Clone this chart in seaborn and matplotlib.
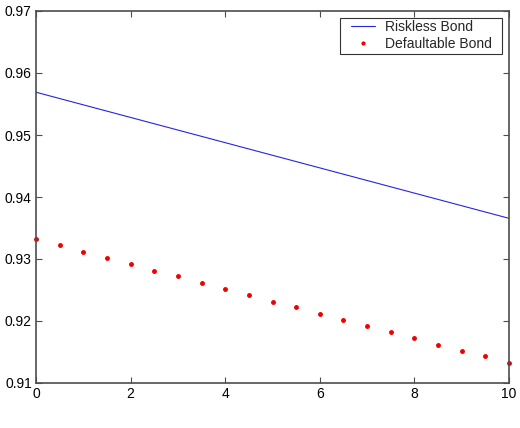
import matplotlib
matplotlib.use("Agg")
import matplotlib.pyplot as plt
from matplotlib.lines import Line2D
from matplotlib.legend_handler import HandlerLine2D
import seaborn as sns
import numpy as np
import pandas as pd

# Data
riskless_x = [0, 10]
riskless_y = [0.9569, 0.93656]

default_x = [0, 0.5, 1, 1.5, 2, 2.5, 3, 3.5, 4, 4.5, 5, 5.5, 6, 6.5, 7, 7.5, 8, 8.5, 9, 9.5, 10]
default_y = [0.93323, 0.93226, 0.93118, 0.93016, 0.92914, 0.92811, 0.92726, 0.92618,
             0.92516, 0.92414, 0.92311, 0.92226, 0.92118, 0.92021, 0.91914, 0.91823,
             0.91721, 0.91618, 0.91516, 0.91431, 0.91327]

x_ticks = [0, 2, 4, 6, 8, 10]
y_ticks = [0.91, 0.92, 0.93, 0.94, 0.95, 0.96, 0.97]
y_tick_labels = ["0.91", "0.92", "0.93", "0.94", "0.95", "0.96", "0.97"]


class ShiftedHandler(HandlerLine2D):
    """Line handle with extra left inset inside the legend box."""
    def get_xdata(self, legend, xdescent, ydescent, width, height, fontsize):
        off = 6.0
        x0 = -xdescent + off
        x1 = -xdescent + width
        return np.array([x0, x1]), np.array([0.5 * (x0 + x1)])


sns.set_theme(style="white")
plt.rcParams['font.family'] = ['Liberation Sans', 'DejaVu Sans']

fig = plt.figure(figsize=(5.2, 4.28), dpi=100)
ax = fig.add_axes([36/520, 45/428, (509-36)/520, (383-11)/428])

df_r = pd.DataFrame({"x": riskless_x, "y": riskless_y})
df_d = pd.DataFrame({"x": default_x, "y": default_y})

sns.lineplot(data=df_r, x="x", y="y", ax=ax, color="#2525e0", linewidth=0.8,
             label="Riskless Bond")
ax.plot(df_d["x"], df_d["y"], linestyle="none", marker=".", markersize=5,
        color="#ee0000", label="Defaultable Bond", clip_on=False)

ax.set_xlim(0, 10)
ax.set_ylim(0.91, 0.97)
ax.set_xticks(x_ticks)
ax.set_xticklabels([str(t) for t in x_ticks])
ax.set_yticks(y_ticks)
ax.set_yticklabels(y_tick_labels)
ax.set_xlabel("")
ax.set_ylabel("")

for s in ax.spines.values():
    s.set_visible(True)
    s.set_color("#4d4d4d")
    s.set_linewidth(1.2)

ax.tick_params(axis="both", which="both", direction="in", length=4, width=0.8,
               color="#4d4d4d", labelsize=10, labelcolor="black",
               top=True, right=True, bottom=True, left=True, pad=3)

handles, labels = ax.get_legend_handles_labels()
labels = [lab + "  " for lab in labels]
leg = ax.legend(handles, labels, loc="upper right", fontsize=10, frameon=True,
                fancybox=False, edgecolor="black", handlelength=2.3,
                borderpad=0.2, labelspacing=0.22, handletextpad=0.72,
                borderaxespad=0.47, markerscale=0.8,
                handler_map={Line2D: ShiftedHandler()})
leg.get_frame().set_linewidth(0.8)

fig.savefig("out.png", dpi=100)
